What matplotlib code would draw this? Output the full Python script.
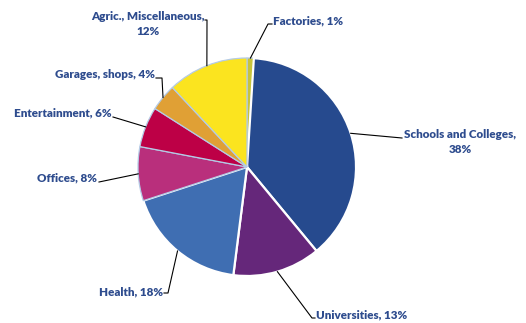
"""
Energy use by building type - pie chart with outside labels
"""

import numpy as np
import matplotlib
matplotlib.use("Agg")
from matplotlib import pyplot as plt

W, H = 526, 323

categories = [
    "Factories",
    "Schools and Colleges",
    "Universities",
    "Health",
    "Offices",
    "Entertainment",
    "Garages, shops",
    "Agric., Miscellaneous",
]
shares = [1, 38, 13, 18, 8, 6, 4, 12]
colors = ["#C6C43C", "#264A8E", "#65277A", "#3F6EB2",
          "#B92F7C", "#BD0046", "#E0A035", "#FBE41F"]
explode = [0, 4, 0, 0, 0, 0, 0, 0]   # pixels
label_text = [
    "Factories, 1%",
    "Schools and Colleges,\n38%",
    "Universities, 13%",
    "Health, 18%",
    "Offices, 8%",
    "Entertainment, 6%",
    "Garages, shops, 4%",
    "Agric., Miscellaneous,\n12%",
]

CENTER = (247, 167)
RADIUS = 109
TEXT_COLOR = "#2E4C8E"


def px(x, y):
    """image pixel (top-left origin) -> data coords"""
    return x, H - y


# leader elbow points and label anchors (pixel coords)
layout = {
    "Factories":             dict(path=[(268, 24), (272, 24)], text=(273, 21), ha="left"),
    "Schools and Colleges":  dict(path=[(402, 138)], text=(460, 142), ha="center"),
    "Universities":          dict(path=[(312, 318), (315, 318)], text=(316, 315), ha="left"),
    "Health":                dict(path=[(168, 293), (164, 293)], text=(163, 292), ha="right"),
    "Offices":               dict(path=[(99, 182)], text=(97, 178), ha="right"),
    "Entertainment":         dict(path=[(113, 117)], text=(112, 113), ha="right"),
    "Garages, shops":        dict(path=[(162, 78), (156, 78)], text=(155, 74), ha="right"),
    "Agric., Miscellaneous": dict(path=[(207, 20), (205, 20)], text=(148, 24), ha="center"),
}

fig = plt.figure(figsize=(W / 100, H / 100), dpi=100)
ax = fig.add_axes([0, 0, 1, 1])

wedges, _ = ax.pie(
    shares,
    colors=colors,
    explode=[e / RADIUS for e in explode],
    radius=RADIUS,
    center=px(*CENTER),
    startangle=90,
    counterclock=False,
    frame=True,
)
ax.set_xlim(0, W)
ax.set_ylim(0, H)
ax.set_aspect("equal")
ax.axis("off")

# small slices get a thin pale outline, big ones a white border
for w, share in zip(wedges, shares):
    if share >= 13:
        w.set_edgecolor("white")
        w.set_linewidth(1.6)
    else:
        w.set_edgecolor("#B4CBE6")
        w.set_linewidth(0.9)

for w, name, txt in zip(wedges, categories, label_text):
    mid = np.deg2rad((w.theta1 + w.theta2) / 2)
    cx, cy = w.center
    start = (cx + RADIUS * np.cos(mid), cy + RADIUS * np.sin(mid))
    spec = layout[name]
    pts = [start] + [px(*p) for p in spec["path"]]
    xs, ys = zip(*pts)
    ax.plot(xs, ys, color="black", linewidth=0.8)
    tx, ty = px(*spec["text"])
    ax.text(tx, ty, txt, ha=spec["ha"], va="center", fontsize=8.4,
            fontweight="heavy", family="Lato", color=TEXT_COLOR,
            linespacing=1.45, multialignment="center")

plt.savefig("out.png", dpi=100)
